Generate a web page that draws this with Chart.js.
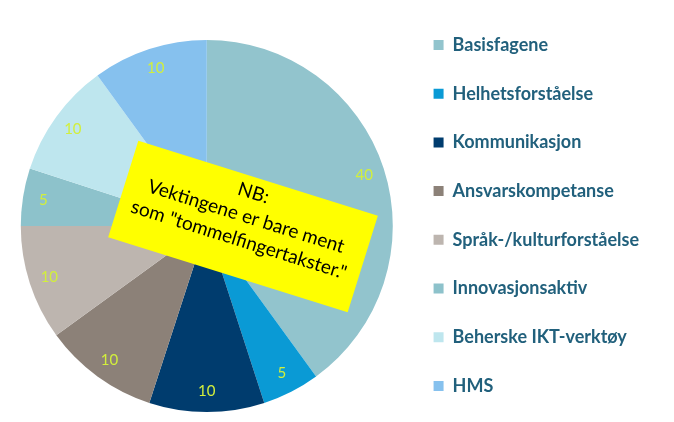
<!DOCTYPE html>
<html>
<head>
<meta charset="utf-8">
<script src="https://cdn.jsdelivr.net/npm/chart.js@4.4.0/dist/chart.umd.min.js"></script>
<style>
  html, body { margin: 0; padding: 0; background: #ffffff; overflow: hidden; }
  /* canvas is taller than the window so the pie centre sits lower than the middle */
  #wrap { width: 674px; height: 452px; position: relative; }
</style>
</head>
<body>
<div id="wrap"><canvas id="chart"></canvas></div>
<script>
const labels = ['Basisfagene', 'Helhetsforståelse', 'Kommunikasjon', 'Ansvarskompetanse',
                'Språk-/kulturforståelse', 'Innovasjonsaktiv', 'Beherske IKT-verktøy', 'HMS'];
const weights = [40, 5, 10, 10, 10, 5, 10, 10];
const sliceColors = ['#92c4cd', '#0a9ad5', '#003c6e', '#8c8178',
                     '#bdb5af', '#8dc2cb', '#bee6ee', '#86c1ee'];
const noteLines = ['NB:', 'Vektingene er bare ment', 'som "tommelfingertakster."'];

// values drawn near the rim of each slice
const sliceLabels = {
    id: 'sliceLabels',
    afterDatasetsDraw(chart) {
        const ctx = chart.ctx;
        const meta = chart.getDatasetMeta(0);
        ctx.save();
        ctx.font = '15px Lato';
        ctx.fillStyle = '#d2ef3c';
        ctx.textAlign = 'center';
        ctx.textBaseline = 'middle';
        meta.data.forEach((arc, i) => {
            const mid = (arc.startAngle + arc.endAngle) / 2;
            const r = arc.outerRadius * 0.89;
            ctx.fillText(String(weights[i]), arc.x + Math.cos(mid) * r, arc.y + Math.sin(mid) * r);
        });
        ctx.restore();
    }
};

// the yellow note over the pie
const noteBox = {
    id: 'noteBox',
    afterDraw(chart) {
        const ctx = chart.ctx;
        ctx.save();
        ctx.translate(243, 226.5);
        ctx.rotate(17.4 * Math.PI / 180);
        ctx.fillStyle = '#ffff00';
        ctx.fillRect(-125.5, -50.5, 251, 101);
        ctx.fillStyle = '#000000';
        ctx.font = '19px Lato';
        ctx.textAlign = 'center';
        ctx.textBaseline = 'middle';
        noteLines.forEach((t, i) => {
            ctx.fillText(t, 0, -35 + i * 24.5);
        });
        ctx.restore();
    }
};

new Chart(document.getElementById('chart'), {
    type: 'pie',
    data: {
        labels: labels,
        datasets: [{
            data: weights,
            backgroundColor: sliceColors,
            borderWidth: 0,
            radius: 186
        }]
    },
    options: {
        responsive: true,
        maintainAspectRatio: false,
        animation: false,
        layout: {
            padding: { left: 10.7, right: 25, top: 5.3, bottom: 5.3 }
        },
        plugins: {
            legend: {
                position: 'right',
                align: 'start',
                labels: {
                    boxWidth: 10,
                    boxHeight: 10,
                    padding: 30.7,
                    color: '#21607c',
                    font: { family: 'Lato', size: 18, weight: 'bold' }
                }
            },
            tooltip: { enabled: false }
        }
    },
    plugins: [sliceLabels, noteBox]
});
</script>
</body>
</html>
